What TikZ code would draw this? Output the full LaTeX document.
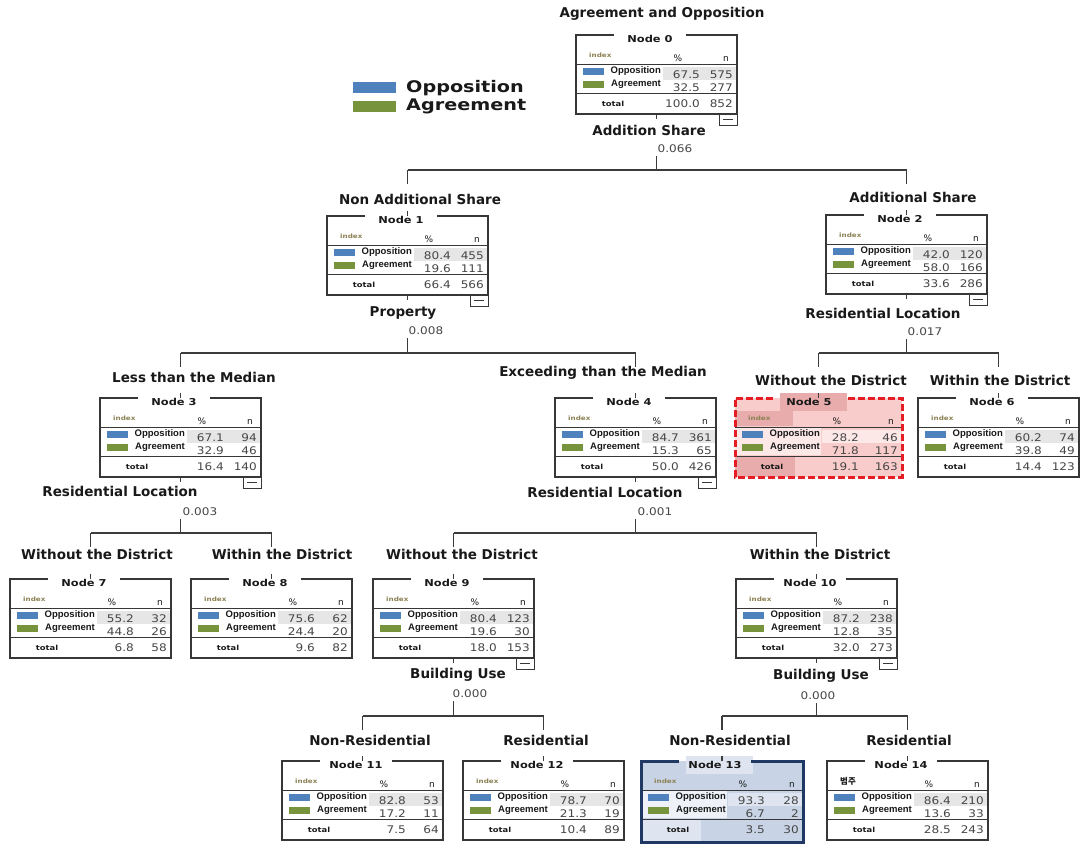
\documentclass[tikz,border=0pt]{standalone}
\usepackage{fontspec}
\setmainfont{DejaVu Sans}
\newfontfamily\numf[FakeStretch=1.15]{DejaVu Sans}
\newfontfamily\widef[FakeStretch=1.2]{DejaVu Sans}
\newfontfamily\lblf{Liberation Sans}
\newfontfamily\krf{Noto Sans CJK KR}
\definecolor{oppblue}{RGB}{79,129,189}
\definecolor{agrgreen}{RGB}{119,147,60}
\definecolor{bandc}{RGB}{230,230,230}
\definecolor{brd}{RGB}{55,55,55}
\definecolor{txt}{RGB}{25,25,25}
\definecolor{numc}{RGB}{70,70,70}
\definecolor{idxc}{RGB}{140,130,85}
\definecolor{edgec}{RGB}{60,60,60}
\definecolor{pinkA}{RGB}{249,204,204}
\definecolor{pinkB}{RGB}{232,172,172}
\definecolor{pinkC}{RGB}{253,232,232}
\definecolor{redb}{RGB}{228,30,36}
\definecolor{blueA}{RGB}{200,212,230}
\definecolor{blueB}{RGB}{222,229,240}
\definecolor{blueC}{RGB}{238,242,248}
\definecolor{navy}{RGB}{31,56,100}
\def\bw{161}
\def\bh{79}
\def\idxtext{index}
\newcommand\tnode[9]{%
\node[treebox, boxfill, minimum width=\bw pt, minimum height=\bh pt] (n#1) at (#2+\bw/2,#3+\bh/2) {};
\begin{scope}[shift={(#2,#3)}]
 \path[labfill] (0,30) rectangle (86,57);
 \path[idxfill] (0,13) rectangle (58,28);
 \path[totfill] (0,59) rectangle (60,\bh);
 \path[hdrfill] (45,-5) rectangle (112,13);
 \path[bandfill] (87,32) rectangle (\bw-1,45);
 \fill[oppblue] (7,33) rectangle (28,40);
 \fill[agrgreen] (7,46) rectangle (28,53);
 \node[lab, anchor=east] (n#1-o) at (85,36.5) {Opposition};
 \node[lab, anchor=east] (n#1-a) at (85,49) {Agreement};
 \node[num, anchor=base east] (n#1-p1) at (124,43) {#4};
 \node[num, anchor=base east] (n#1-n1) at (\bw-4,43) {#5};
 \node[num, anchor=base east] (n#1-p2) at (124,56) {#6};
 \node[num, anchor=base east] (n#1-n2) at (\bw-4,56) {#7};
 \node[num, anchor=base east] (n#1-pt) at (124,72) {#8};
 \node[num, anchor=base east] (n#1-nt) at (\bw-4,72) {#9};
 \node[tot] (n#1-tl) at (37,69) {total};
 \node[idx, anchor=west] (n#1-ix) at (13,20.5) {\idxtext};
 \node[hdrtxt] (n#1-pc) at (102,23) {\%};
 \node[hdrtxt] (n#1-nn) at (\bw-11,24) {n};
 \draw[sep] (0,29) -- (\bw,29);
 \draw[sep] (0,58.5) -- (\bw,58.5);
 \node[hdr] (n#1-h) at (74,3.5) {Node #1};
 \draw[boxborder] (38,0) -- (0,0) -- (0,\bh) -- (\bw,\bh) -- (\bw,0) -- (110,0);
\end{scope}}
\newcommand\collapse[1]{%
 \draw[cbox] (n#1.south east) rectangle ++(-18,11);
 \draw[cbox] (n#1.south east) ++(-14,5.5) -- ++(10,0);}
\newcommand\tsplit[4]{%
 \coordinate (yb#1) at (0,#4);
 \coordinate (j#1) at (n#1.south |- yb#1);
 \draw[edge] (n#1.south) -- ++(0,5);
 \draw[edge] (n#1.south |- v#1.south) ++(0,3) -- (j#1);
 \draw[edge] (n#2.north |- j#1) -- (n#3.north |- j#1);
 \draw[edge] (n#2.north |- j#1) -- ++(0,14);
 \draw[edge] (n#3.north |- j#1) -- ++(0,14);
 \draw[edge] (n#2.north) -- ++(0,-5);
 \draw[edge] (n#3.north) -- ++(0,-5);}
\begin{document}
\begin{tikzpicture}[x=1pt,y=-1pt,
 treebox/.style={inner sep=0pt, outer sep=0pt, draw=none},
 boxfill/.style={fill=white},
 boxborder/.style={draw=brd, line width=1.1pt},
 labfill/.style={}, idxfill/.style={}, totfill/.style={}, hdrfill/.style={},
 bandfill/.style={fill=bandc},
 lab/.style={font=\lblf\bfseries\fontsize{9.5}{10}\selectfont, text=txt, inner sep=0pt},
 num/.style={font=\numf\fontsize{10.5}{11}\selectfont, text=numc, inner sep=0pt},
 hdr/.style={font=\widef\bfseries\fontsize{9.5}{10}\selectfont, text=txt, inner sep=0pt},
 hdrtxt/.style={font=\fontsize{9}{10}\selectfont, text=txt, inner sep=0pt},
 idx/.style={font=\widef\bfseries\fontsize{6}{7}\selectfont, text=idxc, inner sep=0pt},
 tot/.style={font=\widef\bfseries\fontsize{7}{8}\selectfont, text=txt, inner sep=0pt},
 tlabel/.style={font=\bfseries\fontsize{13.5}{14}\selectfont, text=txt, inner sep=0pt},
 sval/.style={font=\numf\fontsize{10.5}{11}\selectfont, text=numc, inner sep=0pt},
 legtxt/.style={font=\widef\bfseries\fontsize{16}{17}\selectfont, text=txt, inner sep=0pt, anchor=west},
 sep/.style={draw=brd, line width=1pt},
 cbox/.style={draw=brd, line width=1pt},
 edge/.style={draw=edgec, line width=1.3pt}]
\useasboundingbox (0,0) rectangle (1091,849);
\fill[white] (0,0) rectangle (1091,849);

% title and legend
\node[tlabel] (title) at (662,14) {Agreement and Opposition};
\fill[oppblue] (353,82) rectangle (396,93);
\fill[agrgreen] (353,101) rectangle (396,112);
\node[legtxt] (leg-o) at (406,88) {Opposition};
\node[legtxt] (leg-a) at (406,106) {Agreement};

% nodes
\tnode{0}{576}{35}{67.5}{575}{32.5}{277}{100.0}{852}
\tnode{1}{327}{216}{80.4}{455}{19.6}{111}{66.4}{566}
\tnode{2}{826}{215}{42.0}{120}{58.0}{166}{33.6}{286}
\tnode{3}{100}{398}{67.1}{94}{32.9}{46}{16.4}{140}
\tnode{4}{555}{398}{84.7}{361}{15.3}{65}{50.0}{426}
\begin{scope}[boxfill/.style={fill=pinkA},
  boxborder/.style={draw=redb, line width=3pt, dash pattern=on 7pt off 3pt},
  hdrfill/.style={fill=pinkB}, idxfill/.style={fill=pinkB}, totfill/.style={fill=pinkB},
  labfill/.style={fill=pinkC}, bandfill/.style={fill=pinkC}]
\def\bw{167}
\tnode{5}{735}{398}{28.2}{46}{71.8}{117}{19.1}{163}
\end{scope}
\tnode{6}{918}{398}{60.2}{74}{39.8}{49}{14.4}{123}
\tnode{7}{10}{579}{55.2}{32}{44.8}{26}{6.8}{58}
\tnode{8}{191}{579}{75.6}{62}{24.4}{20}{9.6}{82}
\tnode{9}{373}{579}{80.4}{123}{19.6}{30}{18.0}{153}
\tnode{10}{736}{579}{87.2}{238}{12.8}{35}{32.0}{273}
\tnode{11}{282}{761}{82.8}{53}{17.2}{11}{7.5}{64}
\tnode{12}{463}{761}{78.7}{70}{21.3}{19}{10.4}{89}
\begin{scope}[boxfill/.style={fill=blueA},
  boxborder/.style={draw=navy, line width=3pt},
  hdrfill/.style={fill=blueB}, labfill/.style={fill=blueC},
  totfill/.style={fill=blueB}, bandfill/.style={fill=blueB}]
\def\bw{162}\def\bh{81}
\tnode{13}{641}{761}{93.3}{28}{6.7}{2}{3.5}{30}
\end{scope}
\begin{scope}
\def\idxtext{\color{txt}\krf\bfseries\fontsize{8.5}{9}\selectfont 범주}
\tnode{14}{827}{761}{86.4}{210}{13.6}{33}{28.5}{243}
\end{scope}

\collapse{0}\collapse{1}\collapse{2}\collapse{3}\collapse{4}\collapse{9}\collapse{10}

% branch labels
\node[tlabel] (l1) at (420,199) {Non Additional Share};
\node[tlabel] (l2) at (913,197) {Additional Share};
\node[tlabel] (l3) at (194,377) {Less than the Median};
\node[tlabel] (l4) at (603,373) {Exceeding than the Median};
\node[tlabel] (l5) at (831,380) {Without the District};
\node[tlabel] (l6) at (1000,380) {Within the District};
\node[tlabel] (l7) at (97,554) {Without the District};
\node[tlabel] (l8) at (282,554) {Within the District};
\node[tlabel] (l9) at (462,554) {Without the District};
\node[tlabel] (l10) at (820,554) {Within the District};
\node[tlabel] (l11) at (370,740) {Non-Residential};
\node[tlabel] (l12) at (546,740) {Residential};
\node[tlabel] (l13) at (730,740) {Non-Residential};
\node[tlabel] (l14) at (909,740) {Residential};

% split variables and p-values
\node[tlabel] (s0) at (649,130) {Addition Share};
\node[sval] (v0) at (675,149) {0.066};
\node[tlabel] (s1) at (403,313) {Property};
\node[sval] (v1) at (426,331) {0.008};
\node[tlabel] (s2) at (883,313) {Residential Location};
\node[sval] (v2) at (925,332) {0.017};
\node[tlabel] (s3) at (120,491) {Residential Location};
\node[sval] (v3) at (200,512) {0.003};
\node[tlabel] (s4) at (605,492) {Residential Location};
\node[sval] (v4) at (655,512) {0.001};
\node[tlabel] (s9) at (458,675) {Building Use};
\node[sval] (v9) at (470,694) {0.000};
\node[tlabel] (s10) at (821,676) {Building Use};
\node[sval] (v10) at (818,696) {0.000};

% connectors
\tsplit{0}{1}{2}{170}
\tsplit{1}{3}{4}{353}
\tsplit{2}{5}{6}{353}
\tsplit{3}{7}{8}{533}
\tsplit{4}{9}{10}{533}
\tsplit{9}{11}{12}{716}
\tsplit{10}{13}{14}{716}
\end{tikzpicture}
\end{document}
